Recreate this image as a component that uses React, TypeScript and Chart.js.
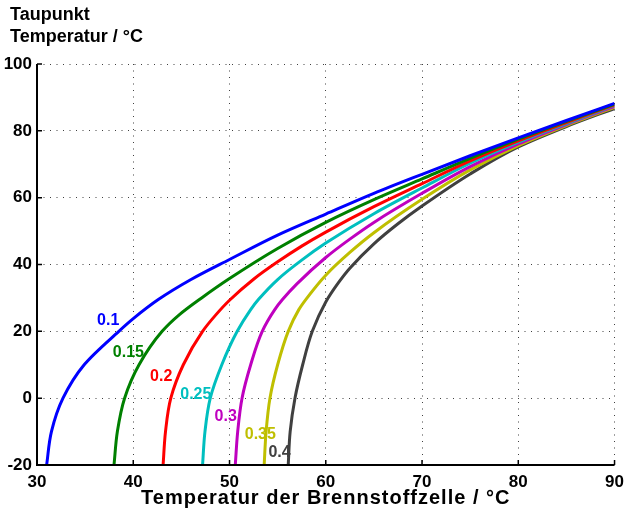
import React, { useEffect, useRef } from "react";
import { Chart, registerables } from "chart.js";

Chart.register(...registerables);

// ---- axis ticks ----
const xTickValues = [30, 40, 50, 60, 70, 80, 90];
const yTickValues = [-20, 0, 20, 40, 60, 80, 100];

// ---- series meta ----
const seriesLabels = ["0.1", "0.15", "0.2", "0.25", "0.3", "0.35", "0.4"];
const seriesColors = ["#0000ff", "#008000", "#ff0000", "#00bfbf", "#bf00bf", "#bfbf00", "#404040"];

// ---- series values: fuel cell temperature (°C) / dew point (°C) ----
const temp010 = [31.0, 31.5, 32.7, 34.9, 38.5, 40, 42.6, 46, 50, 55, 60, 65, 70, 75, 80, 85, 90];
const dew010 = [-20, -10, 0, 10, 20, 23.8, 29.5, 35.5, 41.5, 48.8, 55.1, 61.3, 67.0, 72.55, 77.9, 83.1, 88.2];

const temp015 = [38.0, 38.35, 39.1, 40.6, 43.0, 44.8, 47.1, 50, 55, 60, 65, 70, 75, 80, 85, 90];
const dew015 = [-20, -10, 0, 10, 20, 25, 30, 35.8, 44.8, 52.6, 59.4, 65.6, 71.75, 77.5, 82.85, 88.0];

const temp020 = [43.1, 43.35, 43.9, 45.2, 47.2, 48.6, 50, 52.5, 55, 57.5, 60, 65, 70, 75, 80, 85, 90];
const dew020 = [-20, -10, 0, 10, 20, 25, 29.3, 35.6, 40.8, 45.5, 49.7, 57.3, 64.2, 71.0, 77.0, 82.5, 87.8];

const temp025 = [47.2, 47.45, 48.0, 49.2, 50.8, 52.2, 53.0, 55, 57.5, 60, 65, 70, 75, 80, 85, 90];
const dew025 = [-20, -10, 0, 10, 20, 26.5, 29.5, 35.5, 41.3, 46.4, 55.2, 62.9, 70.3, 76.6, 82.2, 87.6];

const temp030 = [50.6, 50.85, 51.3, 52.2, 53.4, 54.7, 55.5, 57, 60, 62.5, 65, 70, 75, 80, 85, 90];
const dew030 = [-20, -10, 0, 10, 20, 26.5, 29.5, 34.2, 42.1, 47.6, 52.6, 61.3, 69.3, 76.1, 81.9, 87.3];

const temp035 = [53.6, 53.8, 54.2, 55.0, 56.1, 57.2, 58.0, 60, 62.5, 65, 70, 75, 80, 85, 90];
const dew035 = [-20, -10, 0, 10, 20, 26.5, 29.8, 36.8, 43.6, 49.5, 59.5, 68.3, 75.6, 81.6, 87.0];

const temp040 = [56.1, 56.3, 56.8, 57.6, 58.6, 60, 61.3, 62.5, 65, 67.5, 70, 75, 80, 85, 90];
const dew040 = [-20, -10, 0, 10, 20, 28.8, 34.5, 38.9, 46.2, 52.2, 57.5, 67.1, 75.2, 81.3, 86.7];

// ---- curve label positions (data coordinates) ----
const labelT = [37.4, 39.5, 42.9, 46.5, 49.6, 53.2, 55.2];
const labelDew = [23.1, 13.6, 6.5, 1.1, -5.4, -10.9, -16.4];

// ---- titles ----
const xTitle = "Temperatur der Brennstoffzelle / °C";
const yTitleLines = ["Taupunkt", "Temperatur / °C"];

const FONT = '"Liberation Sans", Arial, Helvetica, sans-serif';

export default function App() {
  const ref = useRef<HTMLCanvasElement>(null);

  useEffect(() => {
    if (!ref.current) return;
    const temps = [temp010, temp015, temp020, temp025, temp030, temp035, temp040];
    const dews = [dew010, dew015, dew020, dew025, dew030, dew035, dew040];

    const datasets = seriesLabels.map((lab, i) => ({
      label: lab,
      data: temps[i].map((t, j) => ({ x: t, y: dews[i][j] })),
      borderColor: seriesColors[i],
      backgroundColor: seriesColors[i],
      borderWidth: 3,
      pointRadius: 0,
      fill: false,
      cubicInterpolationMode: "monotone" as const,
    }));

    const decorPlugin = {
      id: "decor",
      afterDatasetsDraw(chart: any) {
        const ctx = chart.ctx as CanvasRenderingContext2D;
        const { left, right, top, bottom } = chart.chartArea;
        const xs = chart.scales.x;
        const ys = chart.scales.y;
        ctx.save();
        // axes (left and bottom)
        ctx.strokeStyle = "#000";
        ctx.lineWidth = 2;
        ctx.beginPath();
        ctx.moveTo(left, top);
        ctx.lineTo(left, bottom);
        ctx.lineTo(right, bottom);
        ctx.stroke();
        // inward ticks
        ctx.lineWidth = 1.5;
        ctx.beginPath();
        xTickValues.forEach((v) => {
          const px = xs.getPixelForValue(v);
          ctx.moveTo(px, bottom);
          ctx.lineTo(px, bottom - 5);
        });
        yTickValues.forEach((v) => {
          const py = ys.getPixelForValue(v);
          ctx.moveTo(left, py);
          ctx.lineTo(left + 5, py);
        });
        ctx.stroke();
        // curve labels
        ctx.font = `bold 16px ${FONT}`;
        ctx.textAlign = "center";
        ctx.textBaseline = "middle";
        seriesLabels.forEach((lab, i) => {
          ctx.fillStyle = seriesColors[i];
          ctx.fillText(lab, xs.getPixelForValue(labelT[i]), ys.getPixelForValue(labelDew[i]));
        });
        // titles
        ctx.fillStyle = "#000";
        ctx.font = `bold 18px ${FONT}`;
        ctx.textAlign = "left";
        ctx.fillText(yTitleLines[0], 10, 15);
        ctx.fillText(yTitleLines[1], 10, 37);
        ctx.font = `bold 20px ${FONT}`;
        (ctx as any).letterSpacing = "1px";
        ctx.textAlign = "center";
        ctx.fillText(xTitle, (left + right) / 2, 498);
        ctx.restore();
      },
    };

    const chart = new Chart(ref.current, {
      type: "line",
      data: { datasets },
      options: {
        animation: false,
        responsive: false,
        devicePixelRatio: 1,
        indexAxis: "y",
        layout: { padding: { top: 64, right: 7, left: 0, bottom: 0 } },
        plugins: { legend: { display: false }, tooltip: { enabled: false }, title: { display: false } },
        scales: {
          x: {
            type: "linear",
            position: "bottom",
            min: 30,
            max: 90,
            afterBuildTicks: (s: any) => {
              s.ticks = xTickValues.map((v) => ({ value: v }));
            },
            afterFit: (s: any) => {
              s.height = 47;
            },
            ticks: {
              color: "#000",
              font: { family: FONT, size: 17, weight: "bold" },
              padding: 7,
              maxRotation: 0,
              autoSkip: false,
            },
            grid: { color: "rgba(0,0,0,0.75)", lineWidth: 1, drawTicks: false },
            border: { display: false, dash: [1, 5.5] },
          },
          y: {
            type: "linear",
            position: "left",
            min: -20,
            max: 100,
            afterBuildTicks: (s: any) => {
              s.ticks = yTickValues.map((v) => ({ value: v }));
            },
            afterFit: (s: any) => {
              s.width = 37;
            },
            ticks: {
              color: "#000",
              font: { family: FONT, size: 17, weight: "bold" },
              padding: 5,
              autoSkip: false,
            },
            grid: { color: "rgba(0,0,0,0.75)", lineWidth: 1, drawTicks: false },
            border: { display: false, dash: [1, 5.5] },
          },
        },
      } as any,
      plugins: [decorPlugin],
    });
    return () => chart.destroy();
  }, []);

  return (
    <div style={{ position: "absolute", left: 0, top: 0, width: 631, height: 512, background: "#fff" }}>
      <canvas ref={ref} width={631} height={512} style={{ display: "block" }} />
    </div>
  );
}
